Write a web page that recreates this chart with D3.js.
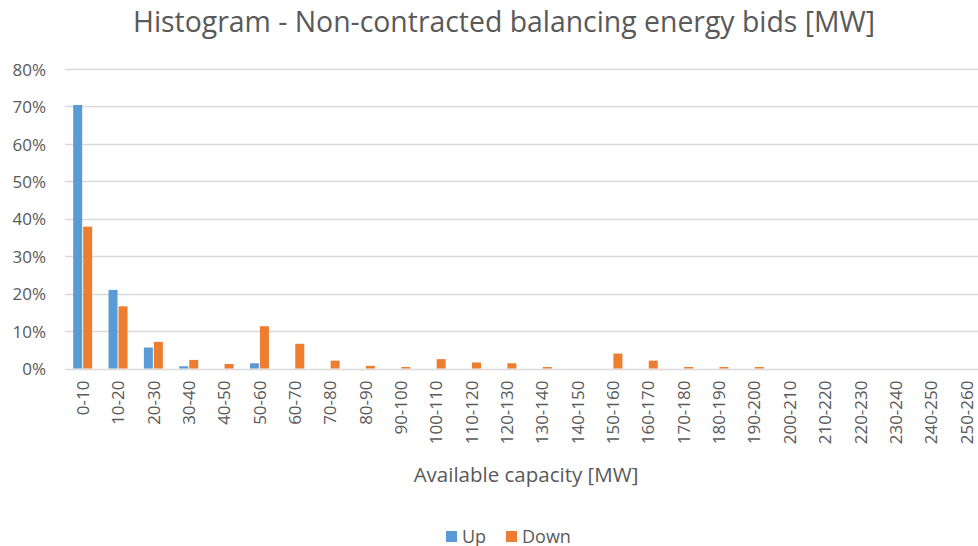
<!DOCTYPE html>
<meta charset="utf-8">
<script src="https://d3js.org/d3.v7.min.js"></script>
<style>
  body { margin: 0; background: #fff; }
  text { font-family: "Open Sans", sans-serif; fill: #595959; }
</style>
<div id="my_dataviz"></div>
<script>

// bins of available capacity
var categories = ["0-10","10-20","20-30","30-40","40-50","50-60","60-70","70-80","80-90","90-100",
  "100-110","110-120","120-130","130-140","140-150","150-160","160-170","170-180","180-190","190-200",
  "200-210","210-220","220-230","230-240","240-250","250-260"];

// share of bids per bin (fraction)
var up   = [0.704, 0.210, 0.056, 0.006, 0, 0.014, 0, 0, 0, 0,
            0, 0, 0, 0, 0, 0, 0, 0, 0, 0,
            0, 0, 0, 0, 0, 0];
var down = [0.379, 0.166, 0.071, 0.023, 0.012, 0.113, 0.066, 0.021, 0.007, 0.004,
            0.025, 0.016, 0.014, 0.004, 0, 0.040, 0.021, 0.004, 0.004, 0.004,
            0, 0, 0, 0, 0, 0];

var seriesNames = ["Up", "Down"];
var colors = ["#5B9BD5", "#ED7D31"];
var yTicks = [0, 0.1, 0.2, 0.3, 0.4, 0.5, 0.6, 0.7, 0.8];

var W = 978, H = 546;
var margin = {top: 69, left: 65, bottom: 177};

var svg = d3.select("#my_dataviz")
  .append("svg")
    .attr("width", W)
    .attr("height", H);

var x = d3.scaleBand()
  .domain(categories)
  .range([margin.left, margin.left + 26 * 35.35]);

var xSub = d3.scaleBand()
  .domain(seriesNames)
  .range([-9.5, 9.5])
  .paddingInner(0.1);

var y = d3.scaleLinear()
  .domain([0, 0.8])
  .range([H - margin.bottom - 0.5, margin.top]);

// gridlines
svg.append("g")
  .selectAll("line")
  .data(yTicks)
  .enter()
  .append("line")
    .attr("x1", margin.left)
    .attr("x2", W)
    .attr("y1", function(d) { return Math.round(y(d)) + 0.5; })
    .attr("y2", function(d) { return Math.round(y(d)) + 0.5; })
    .style("stroke", "#D9D9D9")
    .style("stroke-width", 1.3);

// Y axis labels
var yAxis = svg.append("g")
  .attr("transform", "translate(" + (margin.left - 19) + ",0)")
  .call(d3.axisLeft(y).tickValues(yTicks).tickFormat(d3.format(".0%")).tickSize(0).tickPadding(0));
yAxis.select(".domain").remove();
yAxis.selectAll("text")
  .style("font-size", "17px")
  .style("fill", "#595959")
  .attr("dy", "0.36em");

// X axis labels (rotated)
var xAxis = svg.append("g")
  .attr("transform", "translate(0," + (y(0) + 12) + ")")
  .call(d3.axisBottom(x).tickSize(0).tickPadding(0));
xAxis.select(".domain").remove();
xAxis.selectAll("text")
  .style("font-size", "17px")
  .style("fill", "#595959")
  .attr("text-anchor", "end")
  .attr("transform", "rotate(-90)")
  .attr("x", 0)
  .attr("y", 0)
  .attr("dy", "0.36em");

// bars
var rows = categories.map(function(c, i) { return {cat: c, values: [up[i], down[i]]}; });

svg.append("g")
  .selectAll("g")
  .data(rows)
  .enter()
  .append("g")
    .attr("transform", function(d) { return "translate(" + (x(d.cat) + x.bandwidth() / 2) + ",0)"; })
  .selectAll("rect")
  .data(function(d) { return d.values.map(function(v, j) { return {name: seriesNames[j], value: v, color: colors[j]}; }); })
  .enter()
  .append("rect")
    .attr("x", function(d) { return xSub(d.name); })
    .attr("width", xSub.bandwidth())
    .attr("y", function(d) { return y(d.value); })
    .attr("height", function(d) { return y(0) - y(d.value); })
    .style("fill", function(d) { return d.color; });

// title
svg.append("text")
  .attr("x", 504)
  .attr("y", 32)
  .attr("text-anchor", "middle")
  .attr("textLength", 742)
  .attr("lengthAdjust", "spacingAndGlyphs")
  .style("font-size", "30px")
  .text("Histogram - Non-contracted balancing energy bids [MW]");

// X axis title
svg.append("text")
  .attr("x", 526)
  .attr("y", 482)
  .attr("text-anchor", "middle")
  .style("font-size", "20.5px")
  .text("Available capacity [MW]");

// legend
var legendX = [446, 506];
var legend = svg.append("g")
  .selectAll("g")
  .data(seriesNames)
  .enter()
  .append("g")
    .attr("transform", function(d, i) { return "translate(" + legendX[i] + ",531)"; });
legend.append("rect")
  .attr("width", 11)
  .attr("height", 11)
  .style("fill", function(d, i) { return colors[i]; });
legend.append("text")
  .attr("x", 16)
  .attr("y", 11.5)
  .style("font-size", "18px")
  .text(function(d) { return d; });

</script>
